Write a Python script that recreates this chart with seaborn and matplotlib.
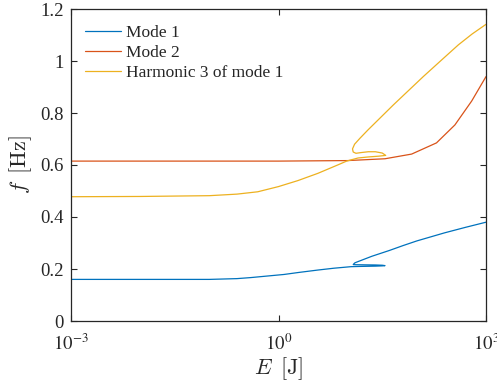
import numpy as np
import pandas as pd
import matplotlib
matplotlib.use("Agg")
import matplotlib.pyplot as plt
import seaborn as sns
from matplotlib.ticker import FixedLocator, FuncFormatter, NullLocator

# Backbone curves: frequency versus energy (energy stored as log10 of E in J)
series_names = ["Mode 1", "Mode 2", "Harmonic 3 of mode 1"]

mode1_logE = [-3.0, -2.0, -1.0, -0.6, -0.4, -0.2, 0.08, 0.3, 0.57, 0.8, 1.05,
              1.2, 1.4, 1.5, 1.54, 1.5, 1.4, 1.25, 1.12, 1.08, 1.09, 1.106,
              1.35, 1.6, 1.8, 2.0, 2.4, 2.7, 3.0]
mode1_f = [0.160, 0.160, 0.160, 0.163, 0.167, 0.172, 0.179, 0.187, 0.196, 0.203, 0.209,
           0.210, 0.211, 0.212, 0.213, 0.2145, 0.2155, 0.216, 0.2165, 0.217, 0.220, 0.224,
           0.249, 0.271, 0.290, 0.308, 0.339, 0.360, 0.380]

mode2_logE = [-3.0, 0.0, 1.0, 1.54, 1.925, 2.284, 2.55, 2.793, 3.0]
mode2_f = [0.615, 0.615, 0.617, 0.624, 0.642, 0.685, 0.754, 0.846, 0.940]

harm3_logE = [-3.0, -2.0, -1.0, -0.6, -0.3, 0.0, 0.28, 0.57, 0.855, 0.985, 1.15,
              1.3, 1.45, 1.55, 1.5, 1.4, 1.3, 1.2, 1.12, 1.08, 1.07, 1.1,
              1.178, 1.294, 1.66, 2.093, 2.35, 2.6, 2.8, 3.0]
harm3_f = [0.478, 0.479, 0.482, 0.488, 0.497, 0.517, 0.540, 0.568, 0.600, 0.615, 0.627,
           0.631, 0.634, 0.637, 0.646, 0.651, 0.651, 0.648, 0.645, 0.650, 0.662, 0.680,
           0.703, 0.735, 0.831, 0.940, 1.002, 1.062, 1.104, 1.141]

x_tick_values = [1e-3, 1e0, 1e3]
y_tick_values = [0, 0.2, 0.4, 0.6, 0.8, 1.0, 1.2]

line_colors = ["#0072BD", "#D95319", "#EDB120"]

frames = []
for name, logE, f in zip(series_names,
                         [mode1_logE, mode2_logE, harm3_logE],
                         [mode1_f, mode2_f, harm3_f]):
    frames.append(pd.DataFrame({"E": np.power(10.0, logE), "f": f, "curve": name}))
df = pd.concat(frames, ignore_index=True)

sns.set_style("ticks")
plt.rcParams.update({
    "font.family": ["Liberation Serif", "DejaVu Serif"],
    "mathtext.fontset": "stix",
    "axes.edgecolor": "#262626",
    "axes.linewidth": 0.9,
    "xtick.color": "#262626",
    "ytick.color": "#262626",
    "text.color": "#262626",
})

fig = plt.figure(figsize=(4.97, 3.85), dpi=100)
ax = fig.add_axes([71 / 497, 1 - 321 / 385, 415 / 497, 312 / 385])
ax.set_xscale("log")

sns.lineplot(data=df, x="E", y="f", hue="curve", hue_order=series_names,
             palette=line_colors, sort=False, estimator=None,
             linewidth=0.9, ax=ax)

ax.set_xlim(1e-3, 1e3)
ax.set_ylim(0, 1.2)
ax.xaxis.set_major_locator(FixedLocator(x_tick_values))
ax.xaxis.set_minor_locator(NullLocator())
ax.xaxis.set_major_formatter(FuncFormatter(lambda v, p: r"$10^{%d}$" % round(np.log10(v))))
ax.yaxis.set_major_locator(FixedLocator(y_tick_values))
ax.yaxis.set_major_formatter(FuncFormatter(lambda v, p: "%g" % round(v, 1)))
ax.tick_params(direction="in", top=True, right=True, length=4, width=0.8,
               labelsize=13.5)
ax.tick_params(axis="x", pad=9)
ax.tick_params(axis="y", pad=5)
for s in ax.spines.values():
    s.set_visible(True)

ax.set_xlabel(r"$E\ \,[\mathrm{J}]$", fontsize=16, math_fontfamily="cm", labelpad=1)
ax.set_ylabel(r"$f\ \,[\mathrm{Hz}]$", fontsize=16, math_fontfamily="cm", labelpad=5)

handles, labels = ax.get_legend_handles_labels()
ax.legend(handles, labels, loc="upper left", bbox_to_anchor=(0.033, 0.948),
          frameon=False, fontsize=12.5, handlelength=2.1, handletextpad=0.3,
          labelspacing=0.21, borderaxespad=0, borderpad=0)

fig.savefig("out.png", dpi=100)
